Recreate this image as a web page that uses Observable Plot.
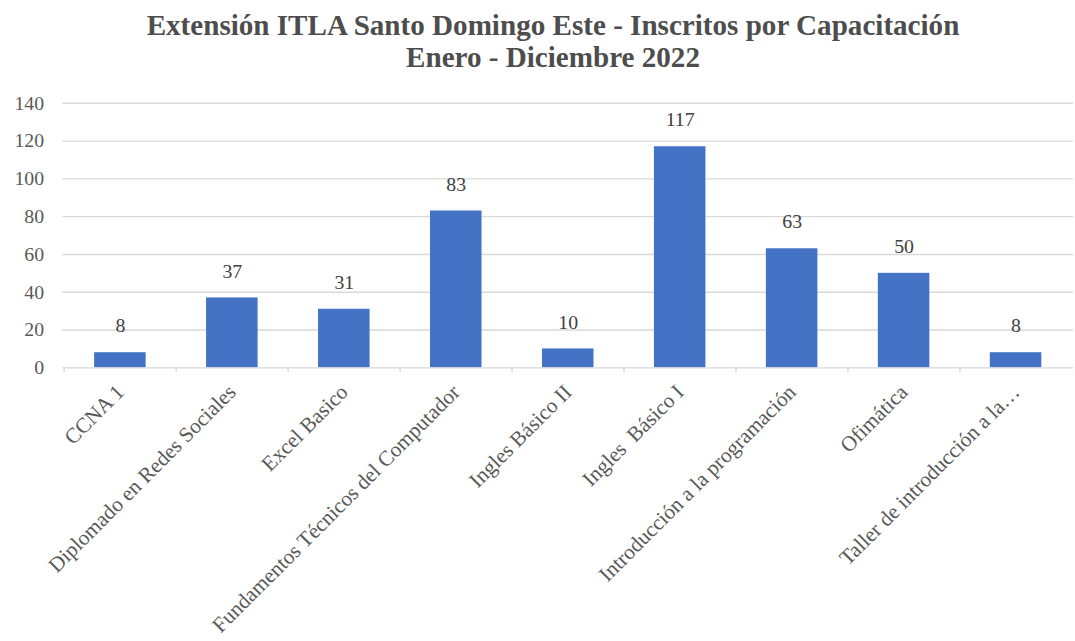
<!DOCTYPE html>
<html>
<head>
<meta charset="utf-8">
<script src="https://cdn.jsdelivr.net/npm/d3@7"></script>
<script src="https://cdn.jsdelivr.net/npm/@observablehq/plot@0.6"></script>
<style>
  html, body { margin: 0; padding: 0; background: #fff; overflow: hidden; width: 1075px; height: 641px; }
  #title { height: 80px; position: relative; font-family: "Liberation Serif", "Times New Roman", serif; font-weight: bold; color: #4d4d4d; }
  #title div { position: absolute; left: 553px; white-space: nowrap; transform: translateX(-50%) scaleX(0.97); transform-origin: center; font-size: 30px; line-height: 30px; }
  #chart svg { display: block; }
</style>
</head>
<body>
<div id="title">
  <div style="top: 10px;">Extensión ITLA Santo Domingo Este - Inscritos por Capacitación</div>
  <div style="top: 42px;">Enero - Diciembre 2022</div>
</div>
<div id="chart"></div>
<script>
const categories = [
  "CCNA 1",
  "Diplomado en Redes Sociales",
  "Excel Basico",
  "Fundamentos Técnicos del Computador",
  "Ingles Básico II",
  "Ingles  Básico I",
  "Introducción a la programación",
  "Ofimática",
  "Taller de introducción a la…"
];
const values = [8, 37, 31, 83, 10, 117, 63, 50, 8];
const yTicks = [0, 20, 40, 60, 80, 100, 120, 140];

const data = categories.map((c, i) => ({ category: c, value: values[i] }));
const step = (1083 - 63) / categories.length;

const chart = Plot.plot({
  width: 1085,
  height: 561,
  marginLeft: 63,
  marginRight: 2,
  marginTop: 23,
  marginBottom: 271,
  style: { fontFamily: "'Liberation Serif', 'Times New Roman', serif", background: "#fff", overflow: "visible" },
  x: { domain: categories, paddingInner: 0.54, paddingOuter: 0.27, label: null },
  y: { domain: [0, 140], label: null },
  marks: [
    Plot.ruleY(yTicks.filter(d => d > 0), { y: d => d, stroke: "#d9d9d9", strokeWidth: 1.4 }),
    Plot.barY(data, { x: "category", y: "value", fill: "#4472c4" }),
    Plot.ruleY([0], { stroke: "#d9d9d9", strokeWidth: 1.4 }),
    Plot.ruleX(categories, { x: d => d, dx: -step / 2, y1: 0, y2: -2.6, stroke: "#d9d9d9", strokeWidth: 1.4 }),
    Plot.text(data, { x: "category", y: "value", text: d => String(d.value), dy: -27, fill: "#404040", fontSize: 20 }),
    Plot.axisY({ ticks: yTicks, tickSize: 0, tickPadding: 19, fontSize: 20, color: "#595959", tickFormat: d => String(d) }),
    Plot.axisX({ tickSize: 0, tickPadding: 21, tickRotate: -45, fontSize: 21.5, color: "#595959" })
  ]
});
document.getElementById("chart").appendChild(chart);
</script>
</body>
</html>
